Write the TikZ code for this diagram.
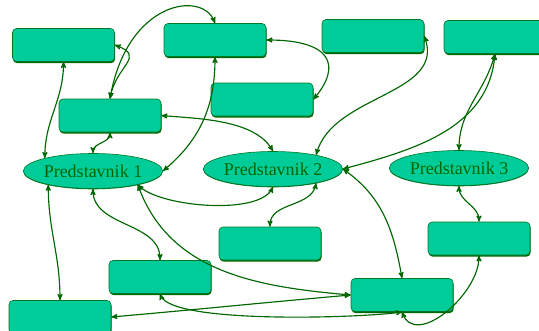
\documentclass[tikz,border=0pt]{standalone}
\usepackage{fontspec}
\setmainfont{Liberation Serif}
\usetikzlibrary{arrows,shapes.geometric,shadows}

\definecolor{boxfill}{RGB}{0,204,153}
\definecolor{darkgreen}{RGB}{0,102,0}
\definecolor{rimgreen}{RGB}{0,120,40}

\begin{document}
\begin{tikzpicture}[x=1pt,y=1pt,<->,>=stealth',line width=1.15pt,darkgreen,
    box node/.style={rectangle,rounded corners=4pt,draw=rimgreen,line width=0.6pt,fill=boxfill,
      minimum width=102pt,minimum height=33pt,
      drop shadow={shadow xshift=0.6pt,shadow yshift=-1.6pt,fill=darkgreen,opacity=1}},
    rep node/.style={ellipse,draw=rimgreen,line width=0.6pt,fill=boxfill,inner sep=0pt,
      minimum width=131pt,minimum height=35pt,text=darkgreen,font=\fontsize{18}{20}\selectfont,
      drop shadow={shadow xshift=0pt,shadow yshift=-0.8pt,fill=rimgreen,opacity=1}}]
      \useasboundingbox (0,0) rectangle (539,-330);

      \node[box node] (b1) at (63.5,-45) {};
      \node[box node] (b2) at (215,-40) {};
      \node[box node] (b3) at (262,-99.5) {};
      \node[box node] (b4) at (110,-115.5) {};
      \node[box node] (b5) at (373,-36) {};
      \node[box node] (b6) at (495,-37) {};
      \node[rep node] (p1) at (93,-171) {Predstavnik 1};
      \node[rep node] (p2) at (273,-169) {Predstavnik 2};
      \node[rep node] (p3) at (459,-168) {Predstavnik 3};
      \node[box node] (b7) at (270,-243.5) {};
      \node[box node] (b8) at (479,-238.5) {};
      \node[box node] (b9) at (160,-277) {};
      \node[box node] (b10) at (402,-295) {};
      \node[box node] (b11) at (60,-317) {};

      \path
        (b1.south) edge[out=-90,in=90] (p1.165)
        (b1.east) edge[out=-20,in=80,looseness=1.6] (b4.north)
        (b4.north) edge[out=80,in=110,out distance=100pt,in distance=35pt] (b2.north)
        (b4.south) edge[out=-90,in=90] (p1.north)
        (b2.south) edge[out=-90,in=40] (p1.east)
        (b4.east) edge[out=-5,in=120,looseness=0.8] (p2.north)
        (b2.east) edge[out=0,in=50,out distance=65pt,in distance=45pt] (b3.east)
        (b5.east) edge[out=-70,in=75] (p2.18)
        (b6.south) edge[out=-95,in=15] (p2.east)
        (b6.south) edge[out=-105,in=90] (p3.north)
        (p2.east) edge[out=-35,in=100] (b10.north)
        (p2.-18) edge[out=-100,in=90] (b7.north)
        (p1.-17) edge[out=-45,in=-115,looseness=0.6] (p2.south)
        (p1.-17) edge[out=-70,in=175] (b10.west)
        (p1.south) edge[out=-90,in=90] (b9.north)
        (p1.197) edge[out=-90,in=90] (b11.north)
        (b11.east) edge[out=5,in=-175] (b10.west)
        (b9.south) edge[out=-70,in=-170,looseness=0.35] (b10.south)
        (b10.south) edge[out=-70,in=-90,looseness=1.05] (b8.south)
        (p3.south) edge[out=-90,in=90] (b8.north);

    \end{tikzpicture}
\end{document}
